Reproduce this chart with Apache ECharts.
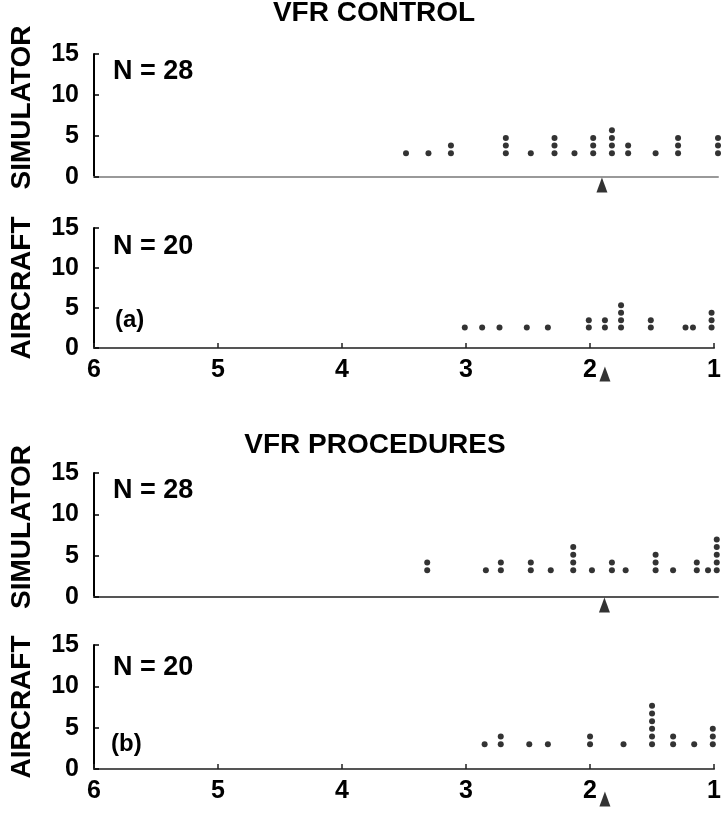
<!DOCTYPE html>
<html>
<head>
<meta charset="utf-8">
<script src="https://cdn.jsdelivr.net/npm/echarts@6/dist/echarts.min.js"></script>
<style>html,body{margin:0;padding:0;background:#fff;}#c{width:724px;height:815px;}</style>
</head>
<body>
<div id="c"></div>
<script>
// ---- data ----
const xTicks = [6, 5, 4, 3, 2, 1];
const yTicks = [0, 5, 10, 15];
// VFR CONTROL - simulator (N = 28)
const simCtrlX = [3.50, 3.32, 3.14, 2.70, 2.50, 2.31, 2.15, 2.00, 1.85, 1.72, 1.50, 1.32, 1.00];
const simCtrlN = [1, 1, 2, 3, 1, 3, 1, 3, 4, 2, 1, 3, 3];
// VFR CONTROL - aircraft (N = 20)
const airCtrlX = [3.01, 2.87, 2.73, 2.51, 2.34, 2.01, 1.88, 1.75, 1.51, 1.23, 1.17, 1.02];
const airCtrlN = [1, 1, 1, 1, 1, 2, 2, 4, 2, 1, 1, 3];
// VFR PROCEDURES - simulator (N = 28)
const simProcX = [3.33, 2.86, 2.74, 2.50, 2.34, 2.16, 2.01, 1.85, 1.74, 1.50, 1.36, 1.17, 1.08, 1.01];
const simProcN = [2, 1, 2, 2, 1, 4, 1, 2, 1, 3, 1, 2, 1, 5];
// VFR PROCEDURES - aircraft (N = 20)
const airProcX = [2.85, 2.72, 2.49, 2.34, 2.00, 1.73, 1.50, 1.33, 1.16, 1.01];
const airProcN = [1, 2, 1, 1, 2, 1, 6, 2, 1, 3];
// mean markers (arrowheads)
const means = [1.93, 1.88, 1.91, 1.88];
const panelNames = ['SIMULATOR', 'AIRCRAFT', 'SIMULATOR', 'AIRCRAFT'];
const panelN = ['N = 28', 'N = 20', 'N = 28', 'N = 20'];

// ---- layout ----
const grids = [
  {top: 54, height: 123},
  {top: 228, height: 120},
  {top: 473, height: 124},
  {top: 645, height: 124}
];
const dotBase = [2.9, 2.55, 3.25, 3.0];
const dotStep = 0.93;
const arrowOffset = [8, 26, 8, 30];
const FONT = '"Liberation Sans", Arial, sans-serif';

function stack(xs, ns, base) {
  const out = [];
  xs.forEach((x, i) => {
    for (let k = 0; k < ns[i]; k++) out.push([x, base + k * dotStep]);
  });
  return out;
}
const panels = [
  [simCtrlX, simCtrlN],
  [airCtrlX, airCtrlN],
  [simProcX, simProcN],
  [airProcX, airProcN]
];

const option = {
  animation: false,
  backgroundColor: '#fff',
  grid: grids.map(g => ({left: 94, right: 6, top: g.top, height: g.height, containLabel: false})),
  xAxis: grids.map((g, i) => {
    const showLab = (i === 1 || i === 3);
    return {
      gridIndex: i, type: 'value', min: 1, max: 6, interval: 1, inverse: true,
      axisLine: {onZero: false, lineStyle: {color: i === 0 ? '#999' : '#555', width: 2}},
      axisTick: {show: showLab, inside: true, length: 5, lineStyle: {color: '#222', width: 1.5}},
      axisLabel: {show: showLab, margin: 10, color: '#000', fontFamily: FONT, fontWeight: 'bold', fontSize: 25},
      splitLine: {show: false}
    };
  }),
  yAxis: grids.map((g, i) => ({
    gridIndex: i, type: 'value', min: 0, max: 15, interval: 5,
    name: panelNames[i], nameLocation: 'middle', nameGap: 58, nameRotate: 90,
    nameTextStyle: {color: '#000', fontFamily: FONT, fontWeight: 'bold', fontSize: 28,
      padding: i % 2 === 0 ? [0, 0, 0, 16] : [0, 0, 0, 0]},
    axisLine: {show: true, lineStyle: {color: '#000', width: 2}},
    axisTick: {show: true, inside: true, length: 5, lineStyle: {color: '#000', width: 1.5}},
    axisLabel: {margin: 15, color: '#000', fontFamily: FONT, fontWeight: 'bold', fontSize: 25},
    splitLine: {show: false}
  })),
  series: [],
  graphic: []
};

panels.forEach((p, i) => {
  option.series.push({
    type: 'scatter', xAxisIndex: i, yAxisIndex: i,
    data: stack(p[0], p[1], dotBase[i]),
    symbol: 'circle', symbolSize: 6,
    itemStyle: {color: '#000'}, silent: true
  });
  option.series.push({
    type: 'scatter', xAxisIndex: i, yAxisIndex: i, clip: false,
    data: [[means[i], 0]],
    symbol: 'triangle', symbolSize: [11, 15], symbolOffset: [0, arrowOffset[i]],
    itemStyle: {color: '#000'}, silent: true, z: 5
  });
});

const nY = [72, 247, 491, 668];
nY.forEach((y, i) => {
  option.graphic.push({type: 'text', left: 113, top: y - 14,
    style: {text: panelN[i], fill: '#000', font: 'bold 27px ' + FONT}});
});
option.graphic.push({type: 'text', left: 115, top: 308, style: {text: '(a)', fill: '#000', font: 'bold 24px ' + FONT}});
option.graphic.push({type: 'text', left: 111, top: 732, style: {text: '(b)', fill: '#000', font: 'bold 24px ' + FONT}});
option.graphic.push({type: 'text', x: 374, y: 13,
  style: {text: 'VFR CONTROL', fill: '#000', font: 'bold 28px ' + FONT, textAlign: 'center', textVerticalAlign: 'middle'}});
option.graphic.push({type: 'text', x: 375, y: 445,
  style: {text: 'VFR PROCEDURES', fill: '#000', font: 'bold 28px ' + FONT, textAlign: 'center', textVerticalAlign: 'middle'}});

const chart = echarts.init(document.getElementById('c'), null, {renderer: 'canvas'});
chart.setOption(option);
</script>
</body>
</html>
